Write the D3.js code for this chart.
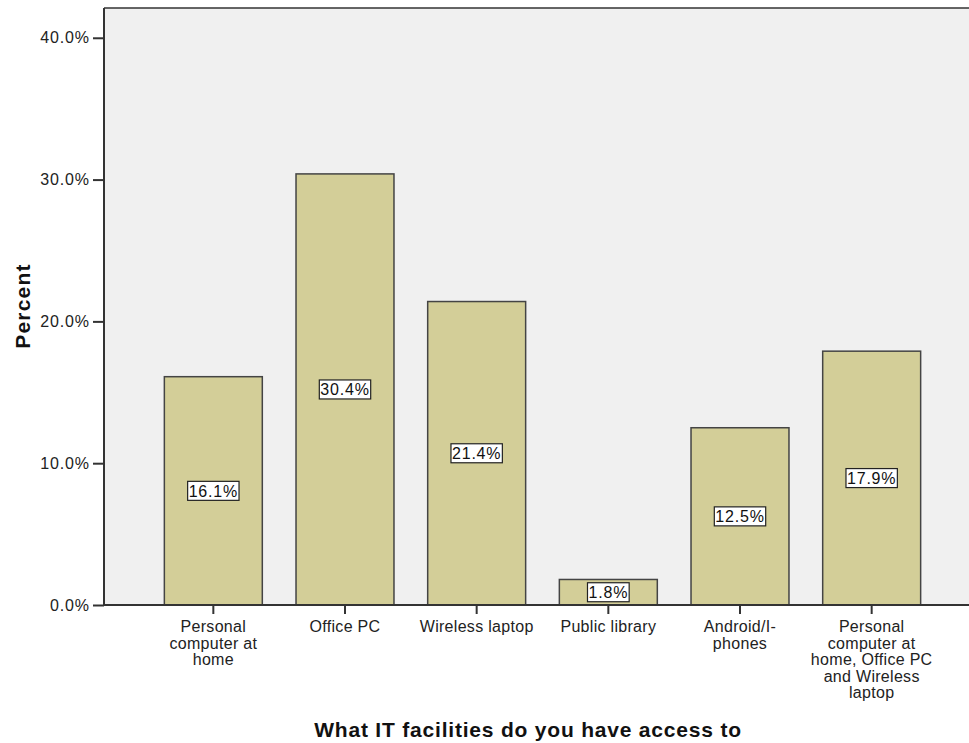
<!DOCTYPE html>
<html>
<head>
<meta charset="utf-8">
<script src="https://cdn.jsdelivr.net/npm/d3@7"></script>
<style>
  body { margin: 0; background: #fff; }
  text { font-family: "Liberation Sans", Arial, sans-serif; }
</style>
</head>
<body>
<script>
const categories = ["pc_home", "office_pc", "wireless", "library", "android", "all_three"];
const categoryLabels = [
    ["Personal", "computer at", "home"],
    ["Office PC"],
    ["Wireless laptop"],
    ["Public library"],
    ["Android/I-", "phones"],
    ["Personal", "computer at", "home, Office PC", "and Wireless", "laptop"]
];
const percents = [16.1, 30.4, 21.4, 1.8, 12.5, 17.9];
const yTicks = [0, 10, 20, 30, 40];

const width = 969;
const height = 743;
const plot = {left: 104, top: 8, right: 969, bottom: 605};

const svg = d3.select("body").append("svg")
    .attr("width", width)
    .attr("height", height);

const x = d3.scaleBand()
    .domain(categories)
    .range([147.5, 937.5])
    .paddingInner(0.256)
    .paddingOuter(0.128);

const y = d3.scaleLinear()
    .domain([0, 42.1])
    .range([plot.bottom, plot.top]);

// plot background
svg.append("rect")
    .attr("x", plot.left)
    .attr("y", plot.top)
    .attr("width", plot.right - plot.left)
    .attr("height", plot.bottom - plot.top)
    .attr("fill", "#f0f0f0");

svg.append("line")
    .attr("x1", plot.left).attr("x2", plot.right)
    .attr("y1", plot.top).attr("y2", plot.top)
    .attr("stroke", "#333").attr("stroke-width", 1.5);

// bars
svg.selectAll(".bar")
    .data(percents)
    .enter().append("rect")
    .attr("class", "bar")
    .attr("x", (d, i) => x(categories[i]))
    .attr("y", d => y(d))
    .attr("width", x.bandwidth())
    .attr("height", d => y(0) - y(d))
    .attr("fill", "#d3ce98")
    .attr("stroke", "#444")
    .attr("stroke-width", 1.5);

// value labels in white boxes
const labels = svg.selectAll(".vlabel")
    .data(percents)
    .enter().append("g")
    .attr("class", "vlabel")
    .attr("transform", (d, i) => `translate(${x(categories[i]) + x.bandwidth() / 2}, ${(y(d) + y(0)) / 2})`);

labels.append("rect");
labels.append("text")
    .attr("text-anchor", "middle")
    .attr("dy", "0.36em")
    .attr("font-size", 16)
    .attr("letter-spacing", 0.8)
    .attr("fill", "#111")
    .text(d => d.toFixed(1) + "%");

labels.each(function () {
    const g = d3.select(this);
    const bb = g.select("text").node().getBBox();
    g.select("rect")
        .attr("x", bb.x - 1)
        .attr("y", -9.5)
        .attr("width", bb.width + 2)
        .attr("height", 19)
        .attr("fill", "#fff")
        .attr("stroke", "#222")
        .attr("stroke-width", 1.2);
});

// y axis
const yAxis = svg.append("g")
    .attr("transform", `translate(${plot.left},0)`)
    .call(d3.axisLeft(y).tickValues(yTicks).tickSize(11).tickPadding(3).tickFormat(d => d.toFixed(1) + "%"));
yAxis.select(".domain").attr("stroke", "#333").attr("stroke-width", 2)
    .attr("d", `M0,${plot.top}V${plot.bottom}`);
yAxis.selectAll(".tick line").attr("stroke", "#333").attr("stroke-width", 2);
yAxis.selectAll(".tick text")
    .attr("font-size", 16)
    .attr("letter-spacing", 0.9)
    .attr("fill", "#222")
    .style("font-family", "'Liberation Sans', Arial, sans-serif");

// x axis
const xAxis = svg.append("g")
    .attr("transform", `translate(0,${plot.bottom})`)
    .call(d3.axisBottom(x).tickSize(9).tickFormat(""));
xAxis.select(".domain").attr("stroke", "#333").attr("stroke-width", 2)
    .attr("d", `M${plot.left},0H${plot.right}`);
xAxis.selectAll(".tick line").attr("stroke", "#333").attr("stroke-width", 2);

const xl = svg.selectAll(".xlabel")
    .data(categoryLabels)
    .enter().append("text")
    .attr("class", "xlabel")
    .attr("text-anchor", "middle")
    .attr("font-size", 16)
    .attr("letter-spacing", 0.3)
    .attr("fill", "#222")
    .attr("transform", (d, i) => `translate(${x(categories[i]) + x.bandwidth() / 2}, 632)`);

xl.selectAll("tspan")
    .data(d => d)
    .enter().append("tspan")
    .attr("x", 0)
    .attr("y", (d, i) => i * 16.5)
    .text(d => d);

// axis titles
svg.append("text")
    .attr("x", 528)
    .attr("y", 737)
    .attr("text-anchor", "middle")
    .attr("font-size", 21)
    .attr("font-weight", "bold")
    .attr("letter-spacing", 0.8)
    .attr("fill", "#111")
    .text("What IT facilities do you have access to");

svg.append("text")
    .attr("transform", "translate(30,306) rotate(-90)")
    .attr("text-anchor", "middle")
    .attr("font-size", 21)
    .attr("font-weight", "bold")
    .attr("letter-spacing", 1.2)
    .attr("fill", "#111")
    .text("Percent");
</script>
</body>
</html>
